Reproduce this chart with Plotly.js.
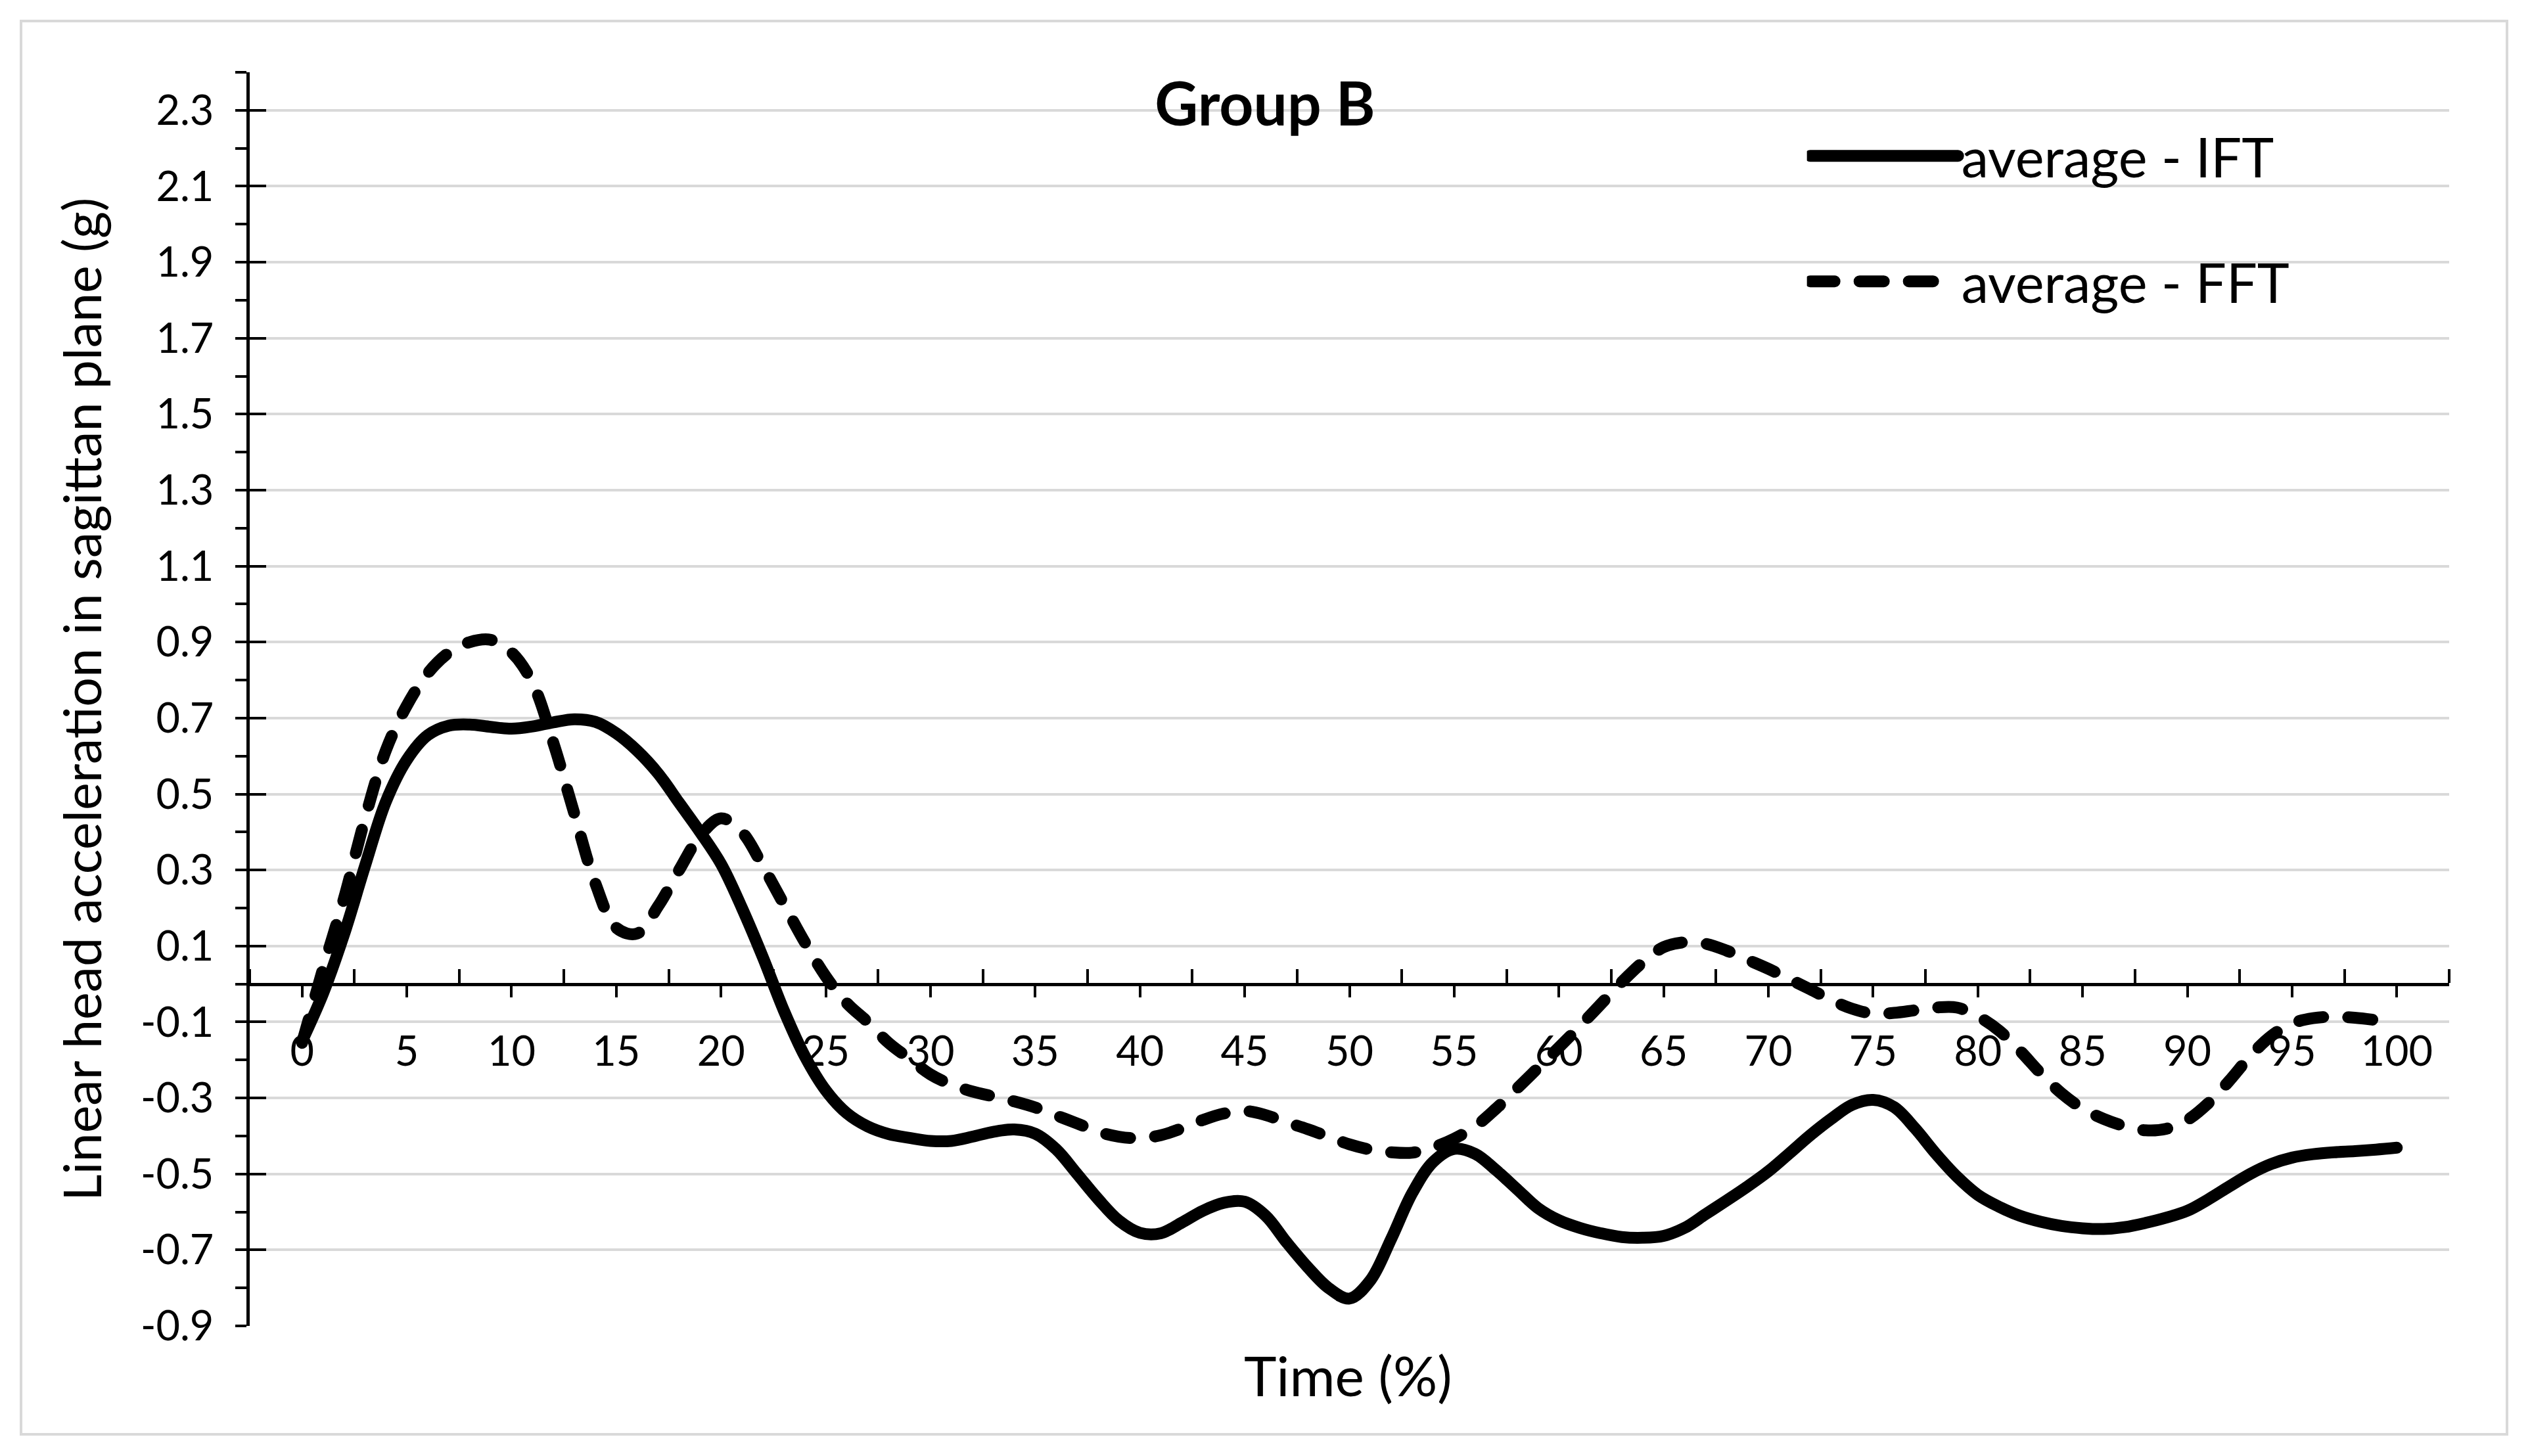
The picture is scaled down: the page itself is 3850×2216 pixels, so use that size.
<!DOCTYPE html>
<html>
<head>
<meta charset="utf-8">
<script src="https://cdn.plot.ly/plotly-3.0.1.min.js"></script>
<style>
  html, body { margin: 0; padding: 0; background: #ffffff; }
  #frame { position: absolute; left: 30px; top: 30px; width: 3779px; height: 2147px; border: 4px solid #d9d9d9; }
  #chart { position: absolute; left: 0; top: 0; width: 3850px; height: 2216px; }
  path.js-line { stroke-linecap: round !important; }
  .legend path.js-line { stroke-width: 18px !important; }
</style>
</head>
<body>
<div id="frame"></div>
<div id="chart"></div>
<script>
// Time (%) samples
const timePct = [];
for (let i = 0; i <= 100; i++) timePct.push(i);

// average - IFT (g)
const averageIFT = [
  -0.15, -0.025, 0.13, 0.31, 0.48, 0.59, 0.655, 0.68, 0.683, 0.677,
  0.672, 0.678, 0.689, 0.697, 0.69, 0.66, 0.614, 0.554, 0.477, 0.40,
  0.316, 0.20, 0.07, -0.07, -0.19, -0.28, -0.34, -0.375, -0.395, -0.405,
  -0.413, -0.413, -0.402, -0.389, -0.383, -0.394, -0.435, -0.50, -0.566, -0.623,
  -0.655, -0.656, -0.628, -0.597, -0.576, -0.573, -0.61, -0.68, -0.745, -0.80,
  -0.828, -0.78, -0.67, -0.55, -0.468, -0.434, -0.447, -0.49, -0.54, -0.59,
  -0.622, -0.642, -0.656, -0.666, -0.668, -0.663, -0.642, -0.606, -0.57, -0.533,
  -0.493, -0.446, -0.398, -0.355, -0.318, -0.305, -0.324, -0.38, -0.447, -0.507,
  -0.555, -0.586, -0.61, -0.626, -0.637, -0.643, -0.645, -0.64, -0.629, -0.615,
  -0.597, -0.567, -0.533, -0.50, -0.474, -0.457, -0.448, -0.443, -0.44, -0.436,
  -0.431
];

// average - FFT (g)
const averageFFT = [
  -0.155, 0.04, 0.225, 0.435, 0.615, 0.733, 0.818, 0.872, 0.90, 0.906,
  0.873, 0.793, 0.634, 0.448, 0.265, 0.148, 0.133, 0.205, 0.30, 0.39,
  0.436, 0.40, 0.31, 0.21, 0.11, 0.02, -0.05, -0.10, -0.155, -0.197,
  -0.238, -0.265, -0.283, -0.296, -0.309, -0.325, -0.346, -0.367, -0.389, -0.402,
  -0.406, -0.398, -0.38, -0.358, -0.341, -0.334, -0.345, -0.364, -0.382, -0.402,
  -0.422, -0.436, -0.443, -0.444, -0.43, -0.407, -0.375, -0.328, -0.275, -0.221,
  -0.167, -0.111, -0.053, 0.005, 0.057, 0.097, 0.11, 0.106, 0.088, 0.064,
  0.04, 0.013, -0.014, -0.042, -0.065, -0.078, -0.076, -0.069, -0.062, -0.062,
  -0.085, -0.122, -0.175, -0.235, -0.288, -0.328, -0.355, -0.374, -0.385, -0.381,
  -0.358, -0.314, -0.255, -0.19, -0.137, -0.104, -0.09, -0.086, -0.089, -0.095,
  -0.102
];

// Tick labels
const xTickVals = [0,5,10,15,20,25,30,35,40,45,50,55,60,65,70,75,80,85,90,95,100];
const xTickText = ['0','5','10','15','20','25','30','35','40','45','50','55','60','65','70','75','80','85','90','95','100'];
const yTickVals = [-0.9,-0.7,-0.5,-0.3,-0.1,0.1,0.3,0.5,0.7,0.9,1.1,1.3,1.5,1.7,1.9,2.1,2.3];
const yTickText = ['-0.9','-0.7','-0.5','-0.3','-0.1','0.1','0.3','0.5','0.7','0.9','1.1','1.3','1.5','1.7','1.9','2.1','2.3'];

const FONT = 'Lato, Carlito, Calibri, sans-serif';
const yMin = -0.9, yMax = 2.4;

const traces = [
  {
    x: timePct, y: averageIFT, type: 'scatter', mode: 'lines',
    name: 'average - IFT', legendgroup: 'a',
    line: { color: '#000000', width: 18, shape: 'spline', smoothing: 1 },
    hoverinfo: 'skip'
  },
  {
    x: timePct, y: averageFFT, type: 'scatter', mode: 'lines',
    name: 'average - FFT', legendgroup: 'b',
    line: { color: '#000000', width: 18, dash: '37px,38px', shape: 'spline', smoothing: 1 },
    hoverinfo: 'skip'
  },
  { x: [null], y: [null], yaxis: 'y2', type: 'scatter', mode: 'lines', showlegend: false, hoverinfo: 'skip' }
];

const layout = {
  width: 3850, height: 2216,
  paper_bgcolor: 'rgba(0,0,0,0)', plot_bgcolor: 'rgba(0,0,0,0)',
  margin: { l: 380, r: 123, t: 110, b: 198 },
  font: { family: FONT, color: '#000000' },
  showlegend: true,
  title: {
    text: '<b>Group B</b>', font: { family: FONT, size: 91, color: '#000000' },
    xref: 'paper', x: 0.4616, xanchor: 'center', yref: 'paper', y: 0.974, yanchor: 'middle'
  },
  xaxis: {
    range: [-2.5, 102.5], anchor: 'free', position: (0 - yMin) / (yMax - yMin),
    showline: true, linecolor: '#000000', linewidth: 5,
    showgrid: false, zeroline: false,
    tickmode: 'array', tickvals: xTickVals, ticktext: xTickText,
    ticks: 'outside', ticklen: 17, tickwidth: 4, tickcolor: '#000000',
    ticklabelstandoff: 29,
    tickfont: { family: FONT, size: 63, color: '#000000' },
    minor: { tick0: 2.5, dtick: 5, ticks: 'inside', ticklen: 21, tickwidth: 4, tickcolor: '#000000', showgrid: false }
  },
  yaxis: {
    range: [yMin, yMax],
    showline: true, linecolor: '#000000', linewidth: 5,
    showgrid: true, gridcolor: '#d9d9d9', gridwidth: 4, zeroline: false,
    tickmode: 'array', tickvals: yTickVals, ticktext: yTickText,
    ticks: 'outside', ticklen: 17, tickwidth: 4, tickcolor: '#000000',
    ticklabelstandoff: 20,
    tickfont: { family: FONT, size: 63, color: '#000000' },
    minor: { tick0: -0.8, dtick: 0.2, ticks: 'outside', ticklen: 17, tickwidth: 4, tickcolor: '#000000', showgrid: false }
  },
  yaxis2: {
    range: [yMin, yMax], overlaying: 'y', side: 'left', anchor: 'x',
    showline: false, showgrid: false, zeroline: false, showticklabels: false,
    tickmode: 'array', tickvals: yTickVals,
    ticks: 'inside', ticklen: 25, tickwidth: 4, tickcolor: '#000000'
  },
  legend: {
    x: 0.708, xanchor: 'left', y: 0.965, yanchor: 'top',
    bgcolor: 'rgba(0,0,0,0)', borderwidth: 0,
    font: { family: FONT, size: 83, color: '#000000' },
    itemwidth: 225, traceorder: 'grouped', tracegroupgap: 80
  },
  annotations: [
    {
      text: 'Time (%)', xref: 'paper', yref: 'paper', x: 0.4995, y: -0.0388,
      xanchor: 'center', yanchor: 'middle', showarrow: false,
      font: { family: FONT, size: 84, color: '#000000' }
    },
    {
      text: 'Linear head acceleration in sagittan plane (g)', xref: 'paper', yref: 'paper',
      x: -0.0768, y: 0.5, xanchor: 'center', yanchor: 'middle', textangle: -90, showarrow: false,
      font: { family: FONT, size: 79, color: '#000000' }
    }
  ]
};

Plotly.newPlot('chart', traces, layout, { displayModeBar: false, staticPlot: true });
</script>
</body>
</html>
